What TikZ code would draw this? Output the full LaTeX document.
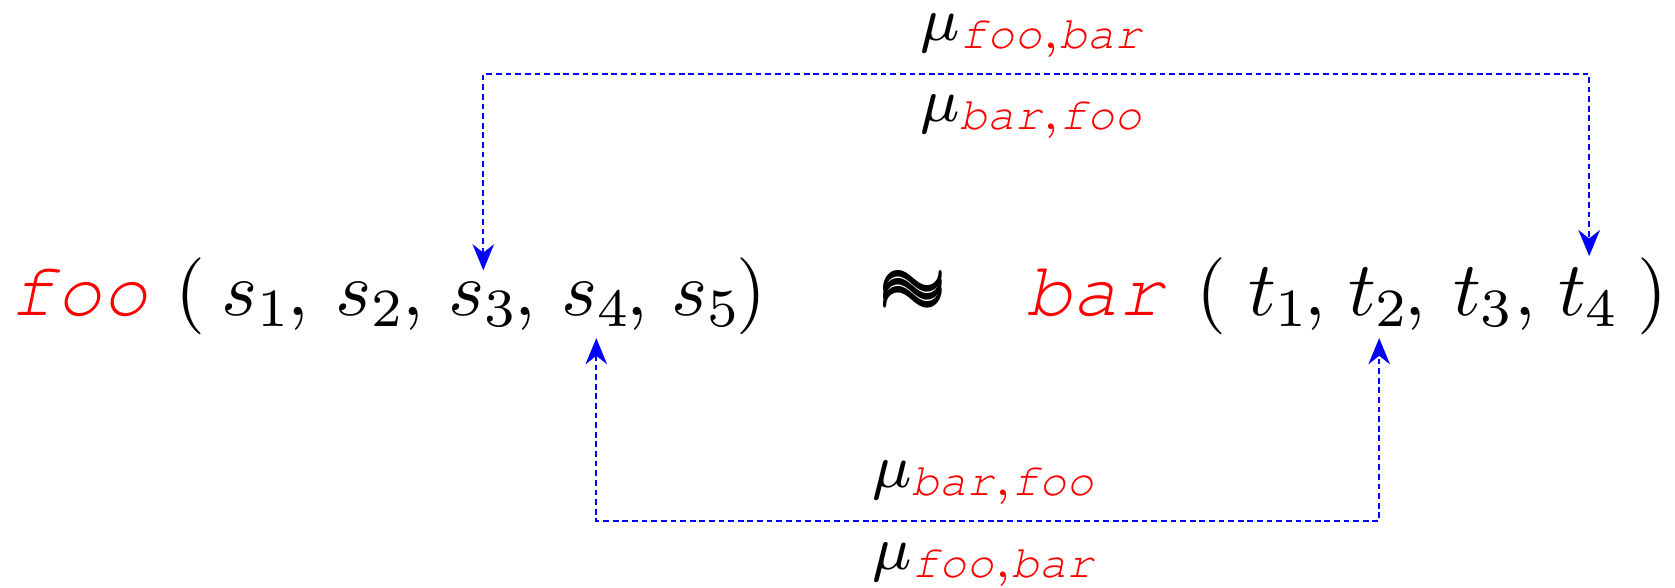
\documentclass[tikz,border=0pt]{standalone}
\usepackage{amsmath}
\usetikzlibrary{arrows.meta}
\newcommand{\fn}[1]{\textcolor{red}{\fontencoding{T1}\fontfamily{pcr}\fontshape{sl}\selectfont #1}}
\newcommand{\mulab}[2]{$\mu_{\text{\fn{#1}}\textcolor{red}{,}\text{\fn{#2}}}$}
\newcommand{\triplesim}{\ooalign{\raisebox{0.085em}{$\boldsymbol{\sim}$}\cr\raisebox{0.185em}{$\boldsymbol{\sim}$}\cr\raisebox{-0.015em}{$\boldsymbol{\sim}$}\cr}}
\tikzset{
  tok/.style={inner sep=0pt, outer sep=0pt, anchor=base west, font=\fontsize{10}{12}\selectfont},
  lab/.style={inner sep=0pt, outer sep=0pt, anchor=base, font=\fontsize{8.5}{10}\selectfont},
  link/.style={draw=blue, line width=0.3pt, dash pattern=on 0.75pt off 0.5pt,
    {Stealth[length=3.4pt,width=2.8pt,inset=1.1pt]}-{Stealth[length=3.4pt,width=2.8pt,inset=1.1pt]},
    shorten <=1.5pt, shorten >=1.5pt}
}
\begin{document}
\begin{tikzpicture}[x=0.13pt,y=-0.13pt]
\useasboundingbox (0,0) rectangle (1675,587);
% left side
\node[tok] (foo) at (10,315) {\fn{foo}};
\node[tok] (lp1) at (175,315) {(};
\node[tok] (s1) at (221,315) {$s_1$};
\node[tok] (c1) at (287,315) {,};
\node[tok] (s2) at (335,315) {$s_2$};
\node[tok] (c2) at (402,315) {,};
\node[tok] (s3) at (448,315) {$s_3$};
\node[tok] (c3) at (514,315) {,};
\node[tok] (s4) at (561,315) {$s_4$};
\node[tok] (c4) at (626,315) {,};
\node[tok] (s5) at (671,315) {$s_5$};
\node[tok] (rp1) at (736,315) {)};
% approx
\node[tok] (apx) at (878,315) {\triplesim};
% right side
\node[tok] (bar) at (1026,315) {\fn{bar}};
\node[tok] (lp2) at (1196,315) {(};
\node[tok] (t1) at (1248,315) {$t_1$};
\node[tok] (d1) at (1304,315) {,};
\node[tok] (t2) at (1348,315) {$t_2$};
\node[tok] (d2) at (1404,315) {,};
\node[tok] (t3) at (1453,315) {$t_3$};
\node[tok] (d3) at (1514,315) {,};
\node[tok] (t4) at (1558,315) {$t_4$};
\node[tok] (rp2) at (1637,315) {)};
% connectors
\coordinate (top) at (0,74);
\coordinate (bot) at (0,521);
\draw[link] (s3.north) -- (s3.north |- top) -- (t4.north |- top) -- (t4.north);
\draw[link] (s4.south) -- (s4.south |- bot) -- (t2.south |- bot) -- (t2.south);
% labels
\node[lab] (la) at (1033,40) {\mulab{foo}{bar}};
\node[lab] (lb) at (1033,121) {\mulab{bar}{foo}};
\node[lab] (lc) at (985,487) {\mulab{bar}{foo}};
\node[lab] (ld) at (985,569) {\mulab{foo}{bar}};
\end{tikzpicture}
\end{document}
